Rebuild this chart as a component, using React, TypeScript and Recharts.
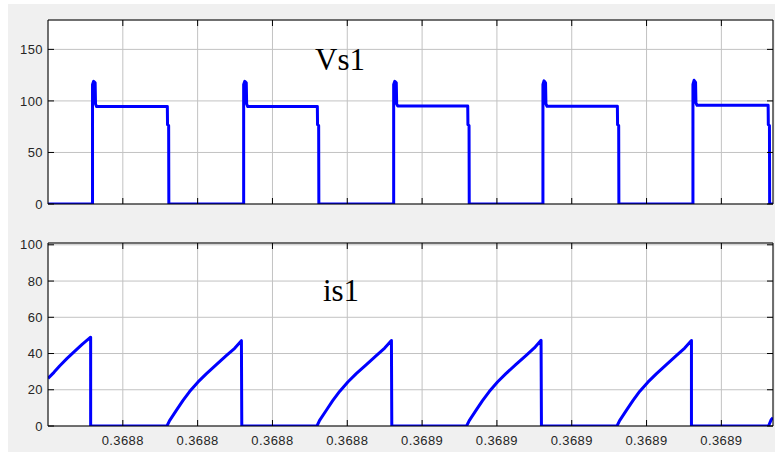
import { LineChart, Line, XAxis, YAxis, CartesianGrid } from 'recharts';

// time axis in microseconds, measured from t = 0.36876 s
const xTicks = [20, 40, 60, 80, 100, 120, 140, 160, 180];
const xTickLabels = ['0.3688', '0.3688', '0.3688', '0.3688', '0.3689', '0.3689', '0.3689', '0.3689', '0.3689'];
const xDomain = [0, 193.8];

const vsTicks = [0, 50, 100, 150];
const isTicks = [0, 20, 40, 60, 80, 100];

// Vs1 waveform (V)
const vsTime = [
  0, 11.9, 11.9, 12.2, 12.6, 12.7, 13.0, 31.9, 31.95, 32.25, 32.3,
  52.3, 52.3, 52.6, 53.0, 53.1, 53.4, 72.0, 72.05, 72.35, 72.4,
  92.4, 92.4, 92.7, 93.1, 93.2, 93.5, 112.2, 112.25, 112.55, 112.6,
  132.3, 132.3, 132.6, 133.0, 133.1, 133.4, 152.2, 152.25, 152.55, 152.6,
  172.4, 172.4, 172.7, 173.1, 173.2, 173.5, 192.5, 192.55, 192.85, 192.9,
  193.8,
];
const vsValue = [
  0, 0, 116, 119, 117.5, 97, 94.5, 94.5, 77, 76, 0,
  0, 116, 119, 117.5, 97, 94.5, 94.5, 77, 76, 0,
  0, 116, 119, 117.5, 97, 95, 95, 77, 76, 0,
  0, 116, 119.5, 117.5, 97, 94.8, 94.8, 77, 76, 0,
  0, 116, 120, 118, 98, 95.8, 95.8, 77, 76, 0,
  0,
];

// is1 waveform (A)
const isTime = [
  0, 1.6, 3.1, 5.1, 7.1, 9.2, 11.4, 11.4,
  31.8, 32.5, 34.3, 36.05, 37.85, 40.05, 42.3, 45.0, 47.65, 49.9, 51.7, 51.8,
  71.9, 72.6, 74.4, 76.15, 77.95, 80.15, 82.4, 85.1, 87.75, 90.0, 91.8, 91.9,
  111.9, 112.6, 114.4, 116.15, 117.95, 120.15, 122.4, 125.1, 127.75, 130.0, 131.8, 131.9,
  152.1, 152.8, 154.6, 156.35, 158.15, 160.35, 162.6, 165.3, 167.95, 170.2, 172.0, 172.0,
  192.6, 193.3, 193.8,
];
const isValue = [
  26.3, 29.6, 33.1, 37.3, 41.2, 45.2, 49, 0,
  0, 3.0, 8.6, 14.0, 19.0, 24.2, 28.8, 33.9, 38.8, 42.9, 47.1, 0,
  0, 3.1, 8.7, 14.1, 19.1, 24.3, 28.9, 33.9, 38.8, 43.0, 47.2, 0,
  0, 3.0, 8.6, 14.0, 19.0, 24.3, 28.9, 34.0, 38.9, 43.1, 47.3, 0,
  0, 3.0, 8.6, 14.0, 19.1, 24.2, 28.8, 33.9, 38.8, 43.0, 47.2, 0,
  0, 3.4, 4.6,
];

const vsData = vsTime.map((t, i) => ({ t, v: vsValue[i] }));
const isData = isTime.map((t, i) => ({ t, v: isValue[i] }));

const labelFont = '"Liberation Sans", Arial, sans-serif';
const gridColor = '#c2c2c2';

const BottomTick = ({ x, y, payload, showLabel }: any) => (
  <g>
    <line x1={x} x2={x} y1={y} y2={y - 6} stroke="#000" />
    {showLabel && (
      <text x={x} y={y + 19} textAnchor="middle" fontSize={13} letterSpacing={0.4} fill="#262626" fontFamily={labelFont}>
        {xTickLabels[xTicks.indexOf(payload.value)]}
      </text>
    )}
  </g>
);

const TopTick = ({ x, y }: any) => <line x1={x} x2={x} y1={y} y2={y + 6} stroke="#000" />;

const LeftTick = ({ x, y, payload }: any) => (
  <g>
    <line x1={x} x2={x + 6} y1={y} y2={y} stroke="#000" />
    <text x={x - 5} y={y + 4.6} textAnchor="end" fontSize={13} letterSpacing={0.4} fill="#262626" fontFamily={labelFont}>
      {payload.value}
    </text>
  </g>
);

const RightTick = ({ x, y }: any) => <line x1={x} x2={x - 6} y1={y} y2={y} stroke="#000" />;

// axes get 1px of room each (Recharts skips zero-sized axes), margins are reduced to match
function Scope({ data, yDomain, yTicks, height, margin, showXLabels }: any) {
  return (
    <LineChart width={775} height={height} data={data} margin={margin}>
      <CartesianGrid stroke={gridColor} fill="#ffffff" />
      <XAxis
        dataKey="t"
        type="number"
        domain={xDomain}
        ticks={xTicks}
        interval={0}
        allowDataOverflow
        height={1}
        tickSize={0}
        tickMargin={0}
        tickLine={false}
        axisLine={{ stroke: '#000' }}
        tick={(p: any) => <BottomTick {...p} showLabel={showXLabels} />}
      />
      <XAxis
        xAxisId="top"
        orientation="top"
        dataKey="t"
        type="number"
        domain={xDomain}
        ticks={xTicks}
        interval={0}
        allowDataOverflow
        height={1}
        tickSize={0}
        tickMargin={0}
        tickLine={false}
        axisLine={{ stroke: '#000' }}
        tick={(p: any) => <TopTick {...p} />}
      />
      <YAxis
        type="number"
        domain={yDomain}
        ticks={yTicks}
        interval={0}
        allowDataOverflow
        width={1}
        tickSize={0}
        tickMargin={0}
        tickLine={false}
        axisLine={{ stroke: '#000' }}
        tick={(p: any) => <LeftTick {...p} />}
      />
      <YAxis
        yAxisId="right"
        orientation="right"
        type="number"
        domain={yDomain}
        ticks={yTicks}
        interval={0}
        allowDataOverflow
        width={1}
        tickSize={0}
        tickMargin={0}
        tickLine={false}
        axisLine={{ stroke: '#000' }}
        tick={(p: any) => <RightTick {...p} />}
      />
      <Line
        dataKey="v"
        type="linear"
        stroke="#0000ff"
        strokeWidth={3}
        strokeLinejoin="round"
        dot={false}
        activeDot={false}
        isAnimationActive={false}
      />
    </LineChart>
  );
}

export default function App() {
  return (
    <div style={{ position: 'absolute', left: 0, top: 0, width: 775, height: 452, background: '#ffffff' }}>
      <div style={{ position: 'absolute', left: 8, top: 4, width: 767, height: 448, background: '#f0f0f0' }} />
      <div style={{ position: 'absolute', left: 0, top: 0 }}>
        <Scope
          data={vsData}
          yDomain={[0, 178.5]}
          yTicks={vsTicks}
          height={220}
          margin={{ top: 19, right: 1, bottom: 15, left: 47 }}
          showXLabels={false}
        />
      </div>
      <div style={{ position: 'absolute', left: 0, top: 220 }}>
        <Scope
          data={isData}
          yDomain={[0, 101]}
          yTicks={isTicks}
          height={232}
          margin={{ top: 22, right: 1, bottom: 25, left: 47 }}
          showXLabels={true}
        />
      </div>
      <svg width={775} height={452} style={{ position: 'absolute', left: 0, top: 0, pointerEvents: 'none' }}>
        <text x={340} y={69.5} textAnchor="middle" fontSize={31} fill="#000" fontFamily='"Liberation Serif", "Times New Roman", serif'>
          Vs1
        </text>
        <text x={341} y={300.5} textAnchor="middle" fontSize={31} fill="#000" fontFamily='"Liberation Serif", "Times New Roman", serif'>
          is1
        </text>
      </svg>
    </div>
  );
}
